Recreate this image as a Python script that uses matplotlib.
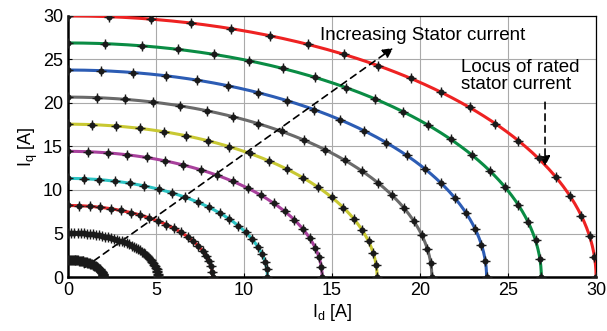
import numpy as np
import matplotlib.pyplot as plt

plt.rcParams['font.family'] = ['Liberation Sans', 'DejaVu Sans']

# 电流圆半径 (A)，由内到外
radii = [2.0, 5.11, 8.22, 11.33, 14.44, 17.56, 20.67, 23.78, 26.89, 30.0]
colors = ['#1a1a1a', '#1a1a1a', '#e8262a', '#2cc4c4', '#a8409c',
          '#c8c832', '#6a6a6a', '#2c5cb4', '#0a8c44', '#ee2222']
n_marks = [60, 45, 22, 21, 21, 21, 21, 21, 21, 21]

ticks = [0, 5, 10, 15, 20, 25, 30]

fig = plt.figure(figsize=(6.07, 3.31), dpi=100)
ax = fig.add_axes([0.112, 0.163, 0.870, 0.789])

for r, c, n in zip(radii, colors, n_marks):
    th = np.linspace(0, np.pi / 2, 200)
    ax.plot(r * np.cos(th), r * np.sin(th), color=c, lw=2.2, zorder=3)
    tm = np.linspace(0, np.pi / 2, n)
    ax.plot(r * np.cos(tm), r * np.sin(tm), ls='none', marker='o',
            ms=3.4, color='#1a1a1a', zorder=4)
    ax.plot(r * np.cos(tm), r * np.sin(tm), ls='none', marker='+',
            ms=6.5, mew=1.0, color='#1a1a1a', zorder=4)

# 箭头与注释
ax.annotate('', xy=(18.6, 26.5), xytext=(0.8, 0.9),
            arrowprops=dict(arrowstyle='-|>', ls=(0, (4, 3)), lw=1.2,
                            color='black', mutation_scale=15))
ax.text(14.3, 27.7, 'Increasing Stator current', fontsize=13.5, va='center')
ax.annotate('', xy=(27.1, 12.4), xytext=(27.1, 20.4),
            arrowprops=dict(arrowstyle='-|>', ls=(0, (4, 3)), lw=1.2,
                            color='black', mutation_scale=15))
ax.text(22.3, 23.1, 'Locus of rated\nstator current', fontsize=13.5,
        va='center', linespacing=1.05)

ax.set_xlim(0, 30)
ax.set_ylim(0, 30)
ax.set_xticks(ticks)
ax.set_yticks(ticks)
ax.grid(True, color='#aaaaaa', lw=0.8)
ax.tick_params(direction='in', labelsize=13, length=3)
ax.set_xlabel('I$_\\mathregular{d}$ [A]', fontsize=13, labelpad=2)
ax.set_ylabel('I$_\\mathregular{q}$ [A]', fontsize=13, labelpad=2)
for s in ax.spines.values():
    s.set_linewidth(0.9)
ax.spines['left'].set_linewidth(1.8)
ax.spines['bottom'].set_linewidth(1.8)

plt.savefig('out.png', dpi=100)
